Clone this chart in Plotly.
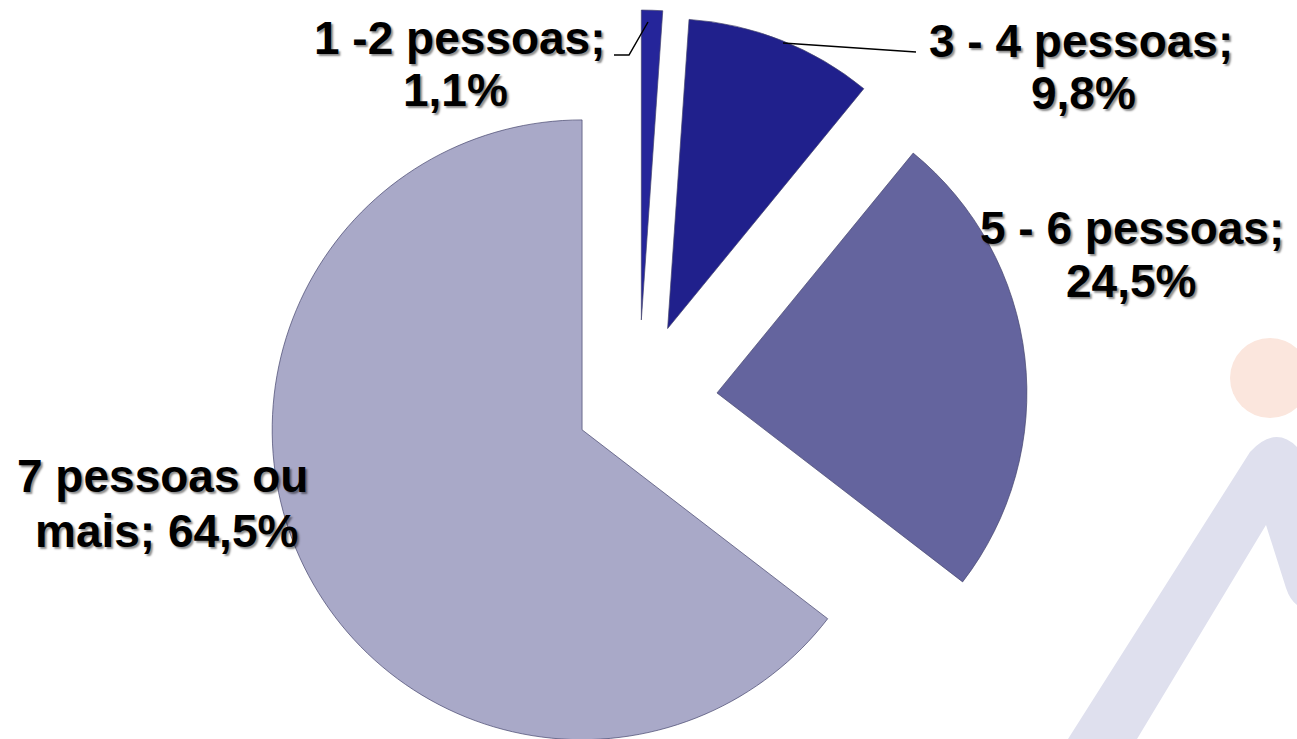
import plotly.graph_objects as go

# Household size distribution
categories = ["1 -2 pessoas", "3 - 4 pessoas", "5 - 6 pessoas", "7 pessoas ou mais"]
shares = [1.1, 9.8, 24.5, 64.5]
slice_colors = ["#25259a", "#20208c", "#64649e", "#a9a9c8"]
slice_pull = [0.265, 0.255, 0.255, 0.203]
wrap_after = ["pessoas;", "pessoas;", "pessoas;", "ou"]

# canvas geometry (pixels)
FIG_W, FIG_H = 1297, 796
M_L, M_R, M_T, M_B = 0, 20, 10, 2
PLOT_W = FIG_W - M_L - M_R
PLOT_H = FIG_H - M_T - M_B


def px(x):
    return (x - M_L) / PLOT_W


def py(y):
    return 1 - (y - M_T) / PLOT_H


def fmt_pct(v):
    return f"{v:.1f}".replace(".", ",") + "%"


fig = go.Figure(
    go.Pie(
        labels=categories,
        values=shares,
        sort=False,
        direction="clockwise",
        rotation=0,
        pull=slice_pull,
        marker=dict(colors=slice_colors, line=dict(color="rgba(70,70,110,0.7)", width=1)),
        textinfo="none",
        hoverinfo="label+percent",
        showlegend=False,
    )
)

# label placement (pixel centres of each text line)
label_pos = [
    ((459, 38), (455, 90)),
    ((1081, 41), (1083, 93)),
    ((1132, 228), (1131, 281)),
    ((162, 476), (166, 531)),
]

font = dict(family="Liberation Sans, Arial, sans-serif", size=46, color="#000000",
            weight="bold", shadow="2px 2px 2px rgba(0,0,0,0.45)")

annotations = []
for cat, val, brk, pos in zip(categories, shares, wrap_after, label_pos):
    full = f"{cat}; {fmt_pct(val)}"
    cut = full.index(brk) + len(brk)
    lines = [full[:cut].strip(), full[cut:].strip()]
    for text, (x, y) in zip(lines, pos):
        annotations.append(dict(
            text=text, x=px(x), y=py(y), xref="paper", yref="paper",
            xanchor="center", yanchor="middle", showarrow=False, font=font,
        ))

# leader lines and background emblem
shapes = [
    dict(type="path", xref="paper", yref="paper", layer="above",
         path=f"M {px(614)} {py(55)} L {px(629)} {py(55)} L {px(648)} {py(22)}",
         line=dict(color="#000000", width=1.5)),
    dict(type="path", xref="paper", yref="paper", layer="above",
         path=f"M {px(783)} {py(43)} L {px(916)} {py(52)}",
         line=dict(color="#000000", width=1.5)),
    dict(type="circle", xref="paper", yref="paper", layer="below",
         x0=px(1230), x1=px(1310), y0=py(338), y1=py(418),
         fillcolor="#fbe6dd", line=dict(width=0)),
    dict(type="path", xref="paper", yref="paper", layer="below",
         path=(f"M {px(1068)} {py(739)} L {px(1250)} {py(452)} "
               f"Q {px(1275)} {py(425)} {px(1297)} {py(447)} "
               f"L {px(1297)} {py(605)} Q {px(1290)} {py(600)} {px(1286)} {py(588)} "
               f"L {px(1266)} {py(525)} L {px(1137)} {py(739)} Z"),
         fillcolor="#dfe0ee", line=dict(width=0)),
]

fig.update_layout(
    width=FIG_W, height=FIG_H,
    margin=dict(l=M_L, r=M_R, t=M_T, b=M_B, autoexpand=False),
    paper_bgcolor="white", plot_bgcolor="white",
    annotations=annotations, shapes=shapes,
)

fig.write_html("out.html")
